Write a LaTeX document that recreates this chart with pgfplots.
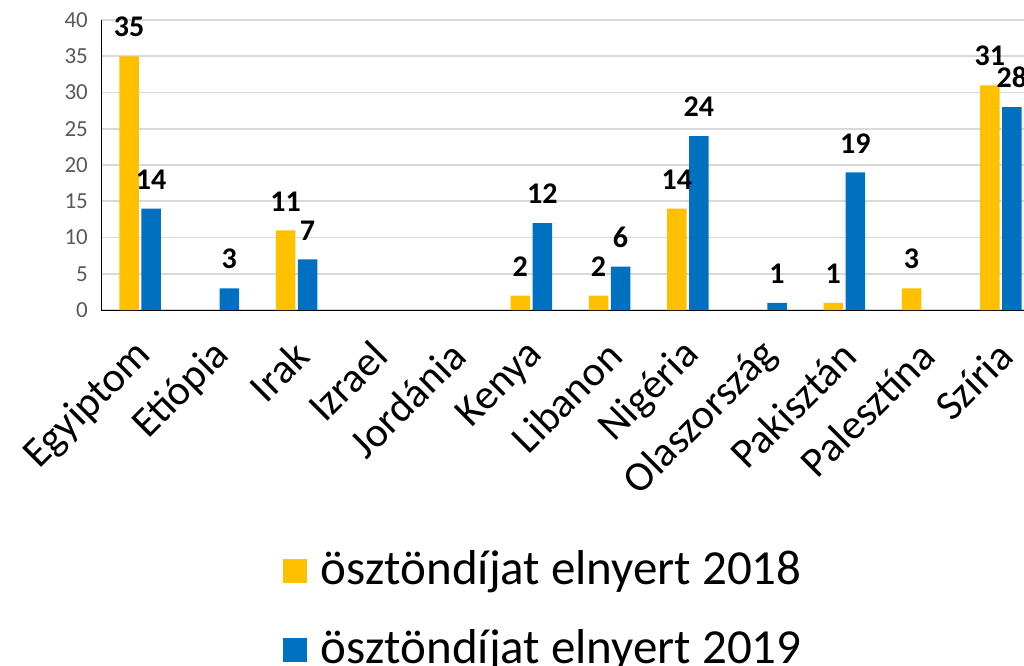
\documentclass[border=0pt]{standalone}
\usepackage{pgfplots}
\pgfplotsset{compat=1.18}
\usepackage{fontspec}
\setmainfont{Carlito}
\definecolor{sarga}{HTML}{FFC000}
\definecolor{kek}{HTML}{0070C0}
\definecolor{racs}{HTML}{D9D9D9}
\definecolor{felirat}{HTML}{595959}
\begin{document}
\begin{tikzpicture}
\begin{axis}[
    scale only axis,
    width=469.5pt, height=145pt,
    xmin=-0.5, xmax=11.5, ymin=0, ymax=40,
    ybar=1.25pt, bar width=9.75pt,
    axis lines=none, hide x axis=false, hide y axis=false,
    ymajorgrids, grid style={line width=0.8pt, draw=racs},
    ytick={0,5,...,40},
    xtick={0,...,11},
    xticklabels={Egyiptom,Etiópia,Irak,Izrael,Jordánia,Kenya,Libanon,Nigéria,Olaszország,Pakisztán,Palesztína,Szíria},
    major tick length=0pt,
    /pgf/number format/assume math mode=true,
    yticklabel style={font=\fontsize{11.5}{13}\selectfont, text=felirat, anchor=east, xshift=-3pt},
    xticklabel style={font=\fontsize{21}{25}\selectfont, xshift=5pt, yshift=-17pt, rotate=45, anchor=east},
    nodes near coords,
    every node near coord/.append style={font=\fontsize{15}{18}\selectfont\bfseries, yshift=6pt},
    legend style={draw=none, at={(0.472,-0.80)}, anchor=north, font=\fontsize{24.5}{29}\selectfont,
      row sep=17pt, legend cell align=left},
    legend image code/.code={\fill[#1] (2pt,-7pt) rectangle (14pt,5pt); \path (19pt,0pt);},
  ]
  \addplot[fill=sarga, draw=none] coordinates {
    (0,35) (2,11) (5,2) (6,2) (7,14) (9,1) (10,3) (11,31)
  };
  \addlegendentry{ösztöndíjat elnyert 2018}
  \addplot[fill=kek, draw=none] coordinates {
    (0,14) (1,3) (2,7) (5,12) (6,6) (7,24) (8,1) (9,19) (11,28)
  };
  \addlegendentry{ösztöndíjat elnyert 2019}
  \coordinate (bl) at (axis cs:-1.79,-49.1);
  \coordinate (tr) at (axis cs:11.296,42.76);
\end{axis}
\pgfresetboundingbox
\path[use as bounding box] (bl) rectangle (tr);
\end{tikzpicture}
\end{document}
